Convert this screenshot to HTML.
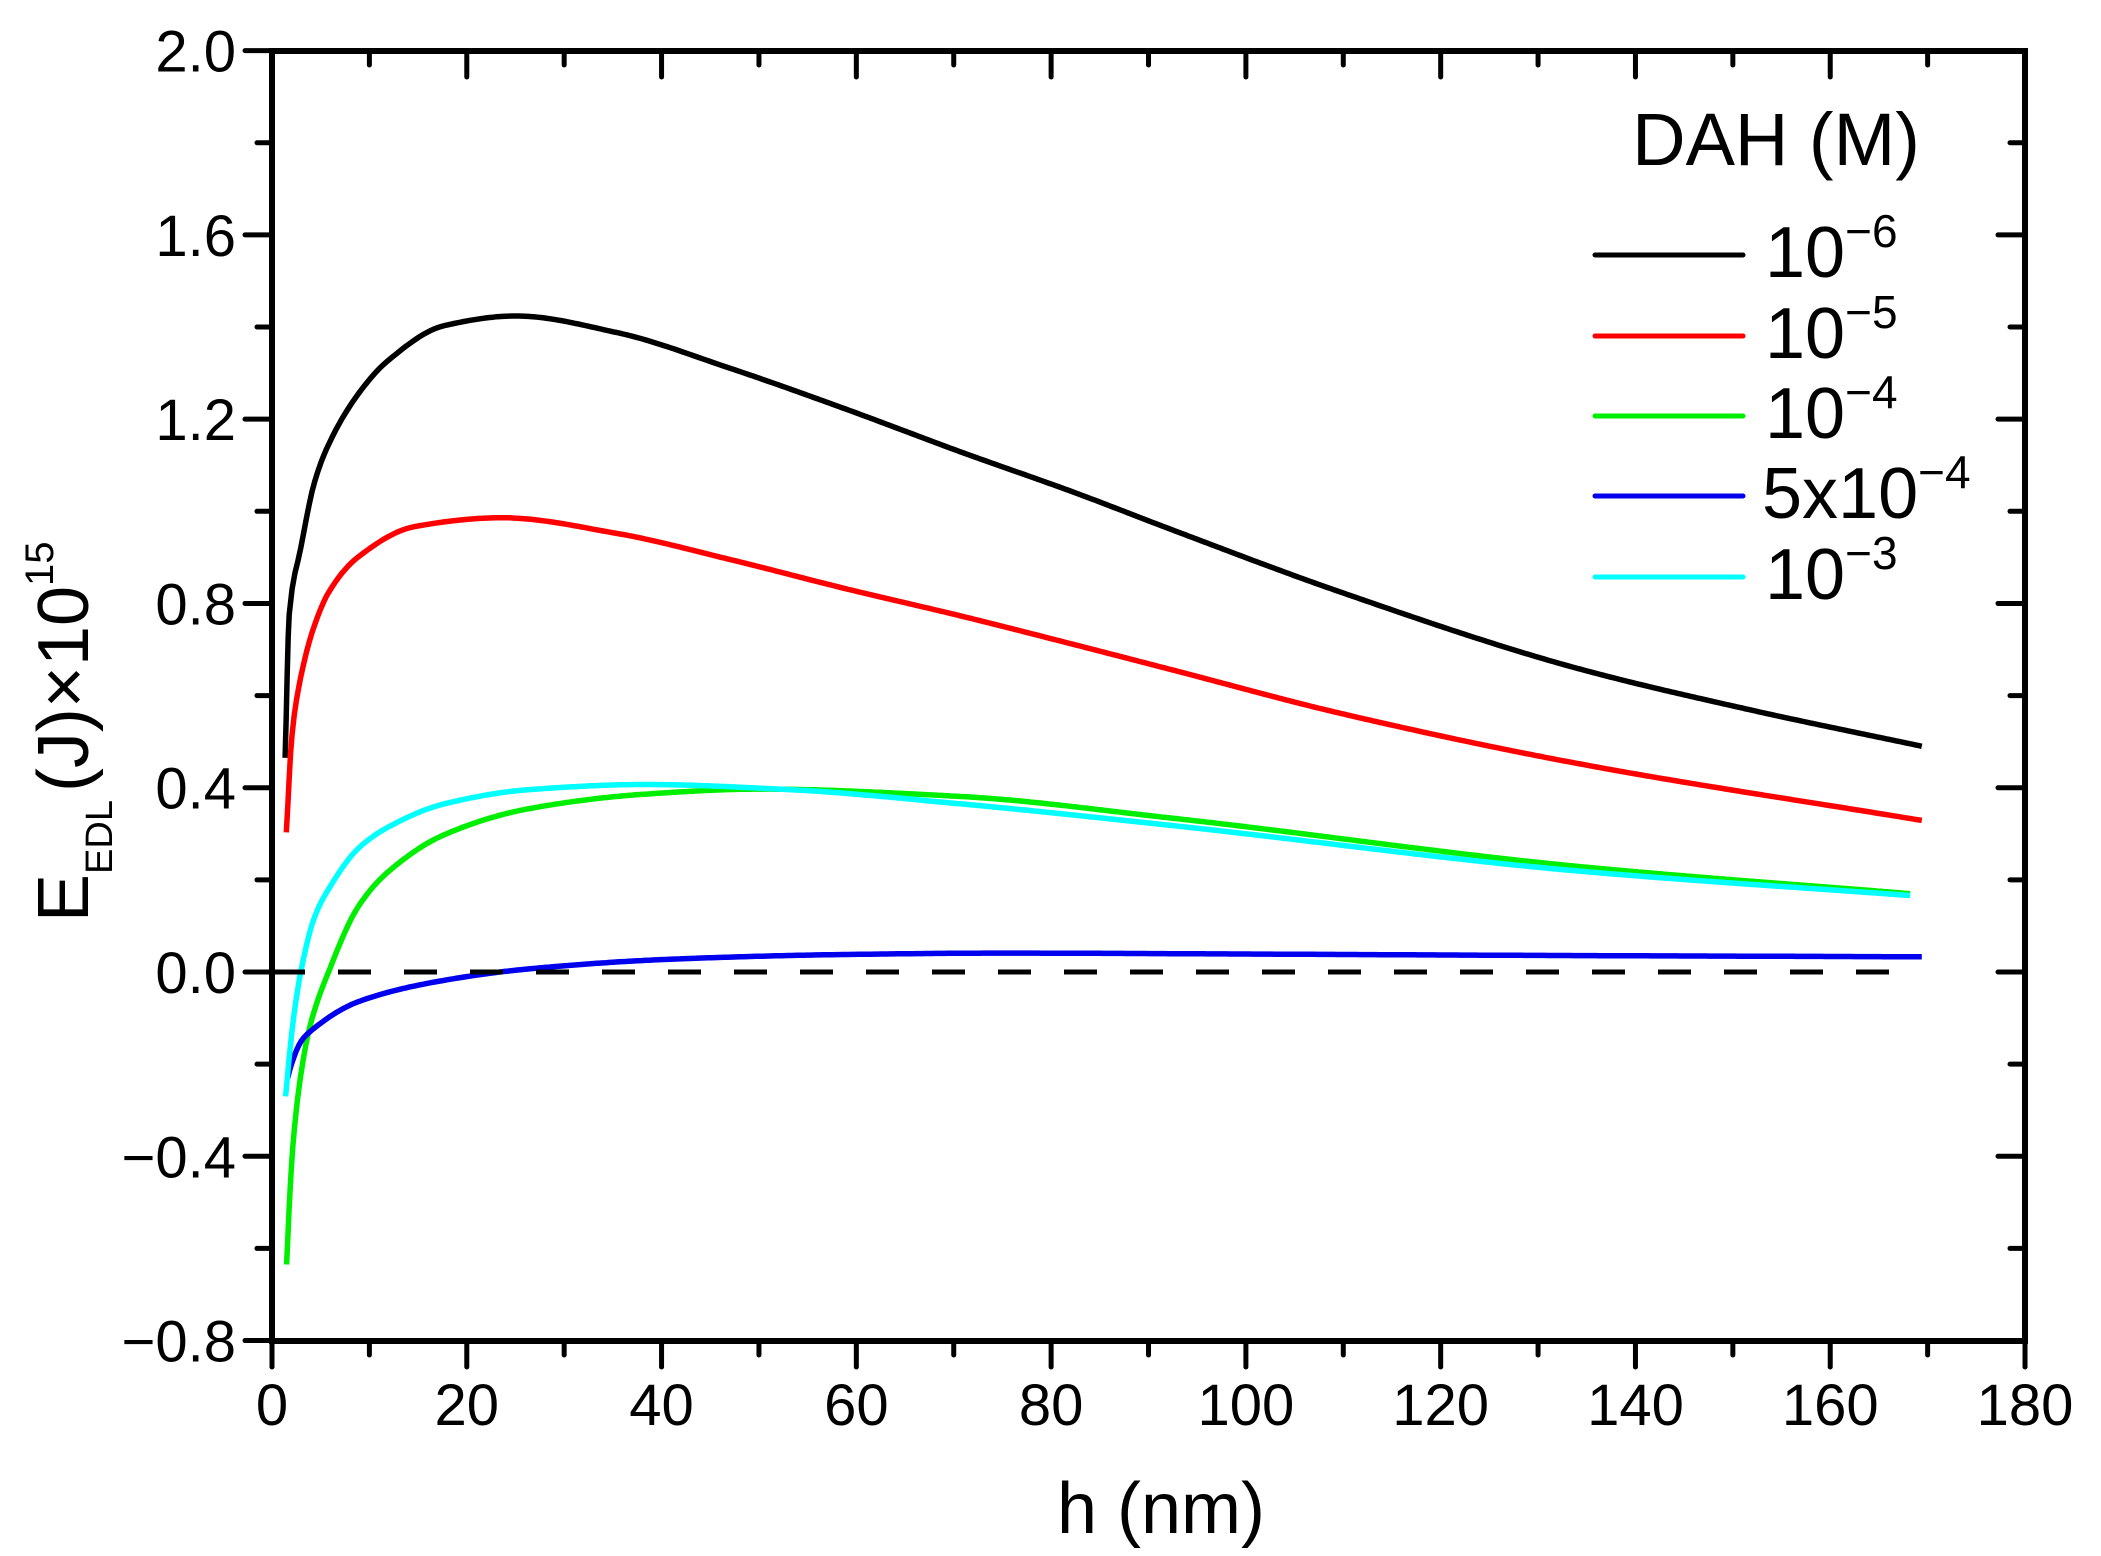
<!DOCTYPE html>
<html><head><meta charset="utf-8"><style>
html,body{margin:0;padding:0;background:#fff;}
svg{display:block;font-family:"Liberation Sans",sans-serif;}
</style></head><body>
<svg id="s" width="2101" height="1556" viewBox="0 0 2101 1556" xmlns="http://www.w3.org/2000/svg">
<g id="curves" fill="none" stroke-width="5.5" stroke-linejoin="round"></g>
<line x1="272" y1="972" x2="1921" y2="972" stroke="#000" stroke-width="5" stroke-dasharray="33,33"/>
<rect x="272" y="51" width="1753" height="1290" fill="none" stroke="#000" stroke-width="6"/>
<g id="ticks" stroke="#000" stroke-width="5" stroke-linecap="round"></g>
<g id="labels" font-size="58" fill="#000"></g>
<text x="1161" y="1533" font-size="72" text-anchor="middle">h (nm)</text>
<text transform="translate(88,922) rotate(-90)" font-size="72">E<tspan font-size="38" dy="24">EDL</tspan><tspan dy="-24" dx="8">(J)×10</tspan><tspan font-size="40" dy="-35">15</tspan></text>
<text x="1776" y="165" font-size="74" text-anchor="middle">DAH (M)</text>
<g stroke-width="5" stroke-linecap="round">
<line x1="1595" y1="255" x2="1743" y2="255" stroke="#000"/>
<line x1="1595" y1="336" x2="1743" y2="336" stroke="#ff0000"/>
<line x1="1595" y1="416" x2="1743" y2="416" stroke="#00ee00"/>
<line x1="1595" y1="496" x2="1743" y2="496" stroke="#0000ee"/>
<line x1="1595" y1="577" x2="1743" y2="577" stroke="#00ffff"/>
</g>
<g font-size="72">
<text x="1765" y="277">10<tspan font-size="46" dy="-30">−6</tspan></text>
<text x="1765" y="358">10<tspan font-size="46" dy="-30">−5</tspan></text>
<text x="1765" y="438">10<tspan font-size="46" dy="-30">−4</tspan></text>
<text x="1762" y="518">5x10<tspan font-size="46" dy="-30">−4</tspan></text>
<text x="1765" y="599">10<tspan font-size="46" dy="-30">−3</tspan></text>
</g>
</svg>
<script>
const X=h=>272+h*9.739, Y=e=>972-e*460.7;
const data={
"#000":[[1.35,0.465],[1.77,0.776],[2.95,0.92],[4.4,1.066],[5.9,1.149],[8.8,1.253],[11.8,1.325],[17.7,1.403],[25,1.424],[35.4,1.388],[47.1,1.31],[58.9,1.222],[70.7,1.129],[82.5,1.04],[92.4,0.96],[109.4,0.827],[133.7,0.661],[152,0.568],[169.4,0.49]],
"#ff0000":[[1.47,0.303],[2.06,0.516],[2.95,0.64],[4.4,0.755],[5.9,0.827],[8.8,0.9],[14.7,0.967],[23.6,0.986],[35.4,0.952],[47.1,0.895],[58.9,0.832],[70.7,0.773],[82.5,0.71],[92.4,0.656],[109.4,0.563],[133.7,0.454],[169.4,0.329]],
"#00ee00":[[1.5,-0.635],[2,-0.42],[2.6,-0.28],[3.8,-0.126],[5.9,0.005],[8.8,0.14],[11.8,0.215],[17.7,0.298],[26.5,0.355],[38.3,0.386],[50,0.397],[70.7,0.381],[92.4,0.334],[133.7,0.23],[168.2,0.17]],
"#0000ee":[[1.6,-0.23],[2,-0.2],[3,-0.15],[4.1,-0.126],[8.8,-0.065],[17.7,-0.018],[26.5,0.007],[41.2,0.028],[58.9,0.038],[75,0.041],[100,0.039],[130,0.036],[169.4,0.033]],
"#00ffff":[[1.4,-0.27],[2.06,-0.126],[2.95,0],[4.4,0.121],[5.9,0.183],[8.8,0.267],[11.8,0.313],[17.7,0.365],[26.5,0.396],[38.3,0.407],[53,0.396],[70.7,0.365],[92.4,0.318],[133.7,0.22],[168.2,0.166]]};
function mono(pts){const n=pts.length,xs=pts.map(p=>p[0]),ys=pts.map(p=>p[1]);const d=[],m=[];
for(let i=0;i<n-1;i++)d.push((ys[i+1]-ys[i])/(xs[i+1]-xs[i]));
m[0]=d[0];m[n-1]=d[n-2];
for(let i=1;i<n-1;i++){if(d[i-1]*d[i]<=0)m[i]=0;else{const w1=2*(xs[i+1]-xs[i])+(xs[i]-xs[i-1]),w2=(xs[i+1]-xs[i])+2*(xs[i]-xs[i-1]);m[i]=(w1+w2)/(w1/d[i-1]+w2/d[i]);}}
const out=[];
for(let i=0;i<n-1;i++){const h=xs[i+1]-xs[i];const N=Math.max(4,Math.ceil(h*3));
for(let k=0;k<N;k++){const t=k/N,t2=t*t,t3=t2*t;
const y=(2*t3-3*t2+1)*ys[i]+(t3-2*t2+t)*h*m[i]+(-2*t3+3*t2)*ys[i+1]+(t3-t2)*h*m[i+1];
out.push([xs[i]+t*h,y]);}}
out.push([xs[n-1],ys[n-1]]);return out;}
let o='';
for(const c in data){const p=mono(data[c]);o+=`<path d="M${p.map(a=>X(a[0]).toFixed(1)+','+Y(a[1]).toFixed(1)).join(' L')}" stroke="${c}"/>`;}
document.getElementById('curves').innerHTML=o;
let t='',l='';
for(let h=0;h<=180;h+=10){const x=X(h),maj=h%20==0;const L=maj?26:14;
t+=`<line x1="${x}" y1="1341" x2="${x}" y2="${1341+L}"/><line x1="${x}" y1="51" x2="${x}" y2="${51+L}"/>`;
if(maj)l+=`<text x="${x}" y="1425" text-anchor="middle">${h}</text>`;}
for(let k=-4;k<=10;k++){const e=k*0.2,y=Y(e),maj=k%2==0;const L=maj?27:15;
t+=`<line x1="272" y1="${y}" x2="${272-L}" y2="${y}"/><line x1="2025" y1="${y}" x2="${2025-L}" y2="${y}"/>`;
if(maj){const s=(e<0?'−':'')+Math.abs(e).toFixed(1);l+=`<text x="236" y="${y+21}" text-anchor="end">${s}</text>`;}}
document.getElementById('ticks').innerHTML=t;document.getElementById('labels').innerHTML=l;
</script>
</body></html>
